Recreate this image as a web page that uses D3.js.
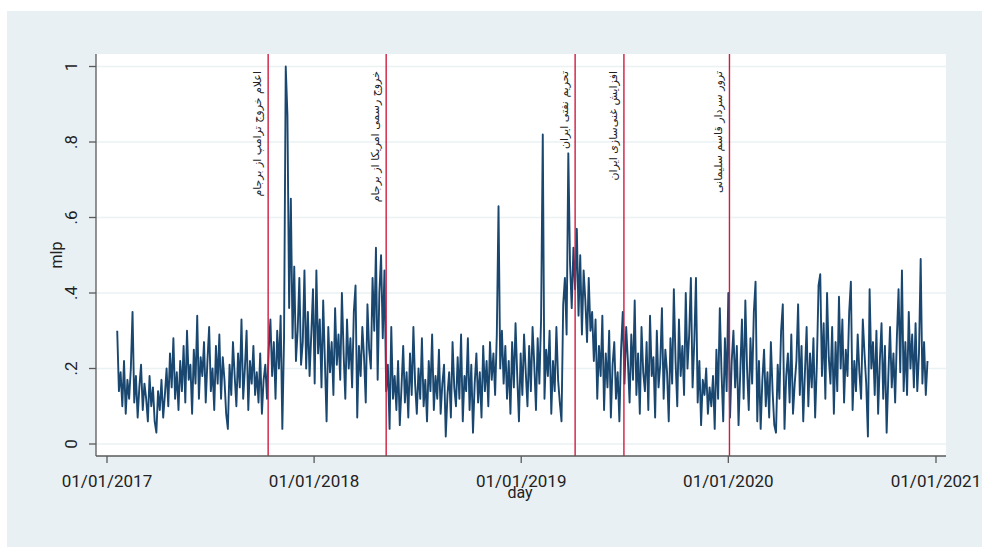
<!DOCTYPE html>
<html>
<head>
<meta charset="utf-8">
<script src="https://cdn.jsdelivr.net/npm/d3@7"></script>
<style>
  body { margin: 0; background: #fff; }
  svg { display: block; }
</style>
</head>
<body>
<script>
// daily mlp index, every 3rd day starting 19 Jan 2017
const seriesStart = '2017-01-19'
const stepDays = 3
const mlpValues = [
  .30, .14, .19, .10, .22, .08, .17, .12, .20, .35,
  .11, .18, .07, .15, .21, .09, .16, .12, .06, .18,
  .10, .15, .06, .03, .14, .09, .17, .07, .13, .20,
  .10, .24, .15, .28, .12, .19, .09, .22, .14, .26,
  .11, .30, .17, .21, .08, .25, .16, .34, .12, .23,
  .18, .27, .11, .22, .31, .14, .20, .09, .26, .16,
  .29, .12, .23, .17, .08, .04, .21, .13, .27, .18,
  .10, .24, .15, .33, .12, .20, .30, .09, .22, .16,
  .26, .13, .19, .11, .24, .08, .17, .21, .12, .25,
  .33, .18, .27, .12, .30, .20, .34, .04, .28, 1.0,
  .87, .36, .65, .28, .47, .22, .30, .44, .21, .27,
  .46, .20, .35, .18, .29, .41, .16, .46, .24, .33,
  .15, .38, .22, .06, .31, .19, .27, .13, .36, .21,
  .29, .17, .40, .24, .12, .33, .20, .28, .15, .35,
  .42, .07, .26, .18, .31, .23, .11, .37, .25, .20,
  .44, .30, .52, .17, .40, .50, .28, .46, .14, .21,
  .04, .31, .12, .18, .09, .22, .05, .15, .26, .11,
  .19, .07, .24, .13, .31, .16, .08, .20, .12, .28,
  .10, .17, .06, .22, .14, .29, .09, .18, .12, .25,
  .08, .16, .21, .02, .13, .19, .07, .27, .15, .10,
  .23, .12, .29, .06, .18, .14, .28, .09, .21, .03,
  .16, .24, .11, .19, .07, .26, .14, .22, .10, .27,
  .17, .24, .13, .29, .63, .20, .30, .16, .26, .12,
  .22, .08, .27, .15, .32, .18, .06, .24, .13, .29,
  .19, .10, .26, .14, .31, .21, .09, .28, .16, .33,
  .82, .12, .25, .18, .30, .08, .22, .14, .31, .17,
  .11, .06, .37, .44, .29, .77, .48, .36, .52, .41,
  .57, .34, .50, .29, .46, .38, .27, .44, .30, .35,
  .22, .33, .12, .26, .18, .34, .09, .24, .15, .30,
  .07, .21, .27, .12, .19, .06, .25, .35, .16, .31,
  .22, .11, .29, .17, .38, .13, .24, .08, .31, .19,
  .14, .27, .09, .34, .18, .23, .07, .30, .15, .21,
  .36, .12, .25, .19, .06, .28, .16, .41, .22, .10,
  .33, .18, .26, .13, .40, .20, .29, .44, .15, .27,
  .44, .11, .22, .05, .17, .13, .20, .08, .15, .10,
  .18, .04, .25, .12, .36, .19, .06, .28, .14, .40,
  .07, .22, .30, .15, .26, .05, .19, .33, .12, .38,
  .20, .09, .28, .16, .35, .43, .06, .22, .04, .17,
  .25, .10, .19, .07, .27, .14, .05, .03, .21, .12,
  .30, .37, .04, .18, .24, .11, .29, .08, .16, .22,
  .37, .13, .26, .06, .19, .31, .10, .24, .15, .28,
  .07, .21, .42, .45, .18, .32, .12, .40, .23, .16,
  .31, .08, .27, .14, .39, .20, .33, .11, .25, .18,
  .35, .43, .09, .22, .14, .29, .19, .12, .33, .24,
  .16, .02, .41, .20, .27, .13, .30, .08, .22, .32,
  .12, .26, .03, .18, .31, .15, .24, .11, .28, .41,
  .19, .46, .14, .27, .13, .35, .20, .29, .15, .32,
  .14, .24, .49, .16, .27, .13, .22
]

// events marked with vertical lines
const eventDates = ['2017-10-12', '2018-05-08', '2019-04-06', '2019-07-01', '2020-01-03']
const eventLabels = [
  'اعلام خروج ترامپ از برجام',
  'خروج رسمی امریکا از برجام',
  'تحریم نفتی ایران',
  'افزایش غنی‌سازی ایران',
  'ترور سردار قاسم سلیمانی'
]

const yTicks = [0, 0.2, 0.4, 0.6, 0.8, 1]
const yTickLabels = ['0', '.2', '.4', '.6', '.8', '1']
const xTickDates = ['2017-01-01', '2018-01-01', '2019-01-01', '2020-01-01', '2021-01-01']

const width = 982
const height = 547
const lineColor = '#1a476f'
const eventColor = '#d01c40'
const axisColor = '#5a5a5a'
const gridColor = '#eaf2f3'

const plot = { left: 96, right: 946, top: 54, bottom: 456 }

const parse = d3.utcParse('%Y-%m-%d')
const fmt = d3.utcFormat('%d/%m/%Y')

const start = parse(seriesStart)
const data = mlpValues.map((v, i) => ({ date: d3.utcDay.offset(start, i * stepDays), v }))

const svg = d3
  .select(document.body)
  .append('svg')
  .attr('width', width)
  .attr('height', height)

// outer graph region
svg
  .append('rect')
  .attr('x', 7)
  .attr('y', 11)
  .attr('width', width - 7)
  .attr('height', height - 11)
  .attr('fill', '#e9f0f3')

// plot region
svg
  .append('rect')
  .attr('x', plot.left)
  .attr('y', plot.top)
  .attr('width', plot.right - plot.left)
  .attr('height', plot.bottom - plot.top)
  .attr('fill', '#fff')

const x = d3
  .scaleUtc()
  .domain([parse(xTickDates[0]), parse(xTickDates[xTickDates.length - 1])])
  .range([107, 936])

const y = d3.scaleLinear().domain([0, 1]).range([444, 66.5])

// gridlines
svg
  .append('g')
  .selectAll('line')
  .data(yTicks)
  .enter()
  .append('line')
  .attr('x1', plot.left)
  .attr('x2', plot.right)
  .attr('y1', (d) => y(d))
  .attr('y2', (d) => y(d))
  .attr('stroke', gridColor)
  .attr('stroke-width', 1.3)

// series
const line = d3
  .line()
  .x((d) => x(d.date))
  .y((d) => y(d.v))

svg
  .append('path')
  .datum(data)
  .attr('d', line)
  .attr('fill', 'none')
  .attr('stroke', lineColor)
  .attr('stroke-width', 1.9)
  .attr('stroke-linejoin', 'round')

// event lines and labels
const events = eventDates.map((d, i) => ({ date: parse(d), label: eventLabels[i] }))

svg
  .append('g')
  .selectAll('line')
  .data(events)
  .enter()
  .append('line')
  .attr('x1', (d) => x(d.date))
  .attr('x2', (d) => x(d.date))
  .attr('y1', plot.top)
  .attr('y2', plot.bottom)
  .attr('stroke', eventColor)
  .attr('stroke-width', 1.4)

svg
  .append('g')
  .selectAll('text')
  .data(events)
  .enter()
  .append('text')
  .attr('transform', (d) => `translate(${x(d.date) - 7},71) rotate(-90)`)
  .attr('text-anchor', 'end')
  .attr('font-family', 'DejaVu Sans, sans-serif')
  .attr('font-size', 11)
  .attr('fill', '#222')
  .text((d) => d.label)

// y axis
const yAxis = svg.append('g').attr('transform', `translate(${plot.left},0)`)
yAxis
  .append('line')
  .attr('y1', plot.top)
  .attr('y2', plot.bottom)
  .attr('stroke', axisColor)
  .attr('stroke-width', 1.3)
yAxis
  .selectAll('.tick')
  .data(yTicks)
  .enter()
  .append('line')
  .attr('x1', -7)
  .attr('x2', 0)
  .attr('y1', (d) => y(d))
  .attr('y2', (d) => y(d))
  .attr('stroke', axisColor)
  .attr('stroke-width', 1.3)
yAxis
  .selectAll('text')
  .data(yTicks)
  .enter()
  .append('text')
  .attr('transform', (d) => `translate(-19,${y(d)}) rotate(-90)`)
  .attr('text-anchor', 'middle')
  .attr('font-family', 'Roboto, sans-serif')
  .attr('font-size', 17)
  .attr('fill', '#222')
  .text((d, i) => yTickLabels[i])

// x axis
const xAxis = svg.append('g').attr('transform', `translate(0,${plot.bottom})`)
xAxis
  .append('line')
  .attr('x1', plot.left)
  .attr('x2', plot.right)
  .attr('stroke', axisColor)
  .attr('stroke-width', 1.3)
xAxis
  .selectAll('.tick')
  .data(xTickDates)
  .enter()
  .append('line')
  .attr('x1', (d) => x(parse(d)))
  .attr('x2', (d) => x(parse(d)))
  .attr('y1', 0)
  .attr('y2', 7)
  .attr('stroke', axisColor)
  .attr('stroke-width', 1.3)
xAxis
  .selectAll('text')
  .data(xTickDates)
  .enter()
  .append('text')
  .attr('x', (d) => x(parse(d)))
  .attr('y', 31)
  .attr('text-anchor', 'middle')
  .attr('font-family', 'Roboto, sans-serif')
  .attr('font-size', 17)
  .attr('fill', '#222')
  .text((d) => fmt(parse(d)))

// axis titles
svg
  .append('text')
  .attr('x', 520)
  .attr('y', 498)
  .attr('text-anchor', 'middle')
  .attr('font-family', 'Roboto, sans-serif')
  .attr('font-size', 16)
  .attr('fill', '#222')
  .text('day')

svg
  .append('text')
  .attr('transform', `translate(62,255) rotate(-90)`)
  .attr('text-anchor', 'middle')
  .attr('font-family', 'Roboto, sans-serif')
  .attr('font-size', 16)
  .attr('fill', '#222')
  .text('mlp')
</script>
</body>
</html>
